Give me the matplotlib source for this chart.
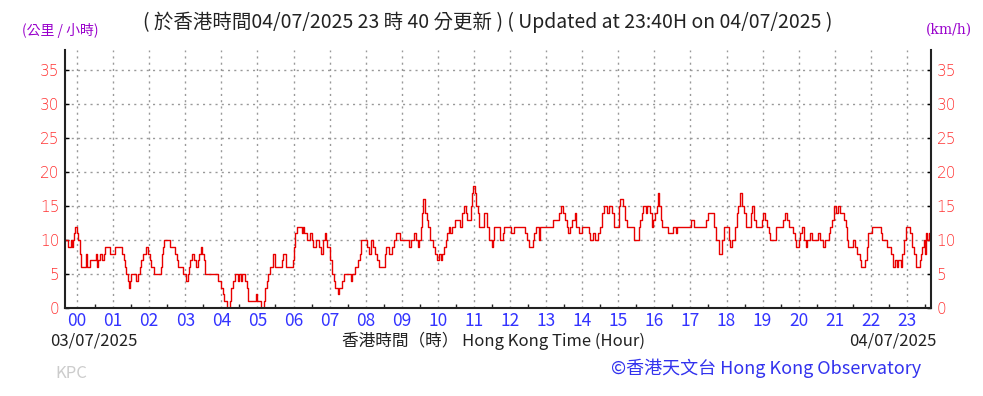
import numpy as np
import matplotlib.pyplot as plt
from matplotlib.ticker import MultipleLocator

# wind speed (km/h) step changes, time in hours since 00:00 on 04/07/2025
hours = [-0.333, -0.26, -0.18, -0.15, -0.11, -0.07, -0.05, 0.0, 0.04, 0.08, 0.11,
         0.24, 0.27, 0.37, 0.52, 0.54, 0.59, 0.65, 0.68, 0.74, 0.78, 0.92, 1.05,
         1.24, 1.29, 1.34, 1.37, 1.40, 1.43, 1.47, 1.50, 1.64, 1.69, 1.74, 1.78,
         1.83, 1.92, 1.97, 2.01, 2.05, 2.14, 2.33, 2.35, 2.37, 2.41, 2.59, 2.71,
         2.76, 2.81, 2.95, 3.01, 3.07, 3.10, 3.14, 3.19, 3.25, 3.30, 3.34, 3.38,
         3.43, 3.47, 3.53, 3.56, 3.92, 3.99, 4.04, 4.08, 4.16, 4.24, 4.28, 4.32,
         4.38, 4.45, 4.48, 4.54, 4.58, 4.65, 4.70, 4.74, 4.97, 5.00, 5.10, 5.17,
         5.22, 5.26, 5.30, 5.35, 5.44, 5.48, 5.67, 5.72, 5.79, 5.98, 6.01, 6.05,
         6.09, 6.23, 6.26, 6.30, 6.37, 6.46, 6.50, 6.54, 6.61, 6.72, 6.76, 6.82,
         6.86, 6.89, 6.94, 7.01, 7.06, 7.11, 7.16, 7.22, 7.26, 7.35, 7.41, 7.60,
         7.63, 7.70, 7.78, 7.83, 7.87, 8.05, 8.10, 8.15, 8.19, 8.26, 8.30, 8.37,
         8.54, 8.56, 8.64, 8.73, 8.78, 8.84, 8.95, 9.21, 9.26, 9.34, 9.39, 9.44,
         9.47, 9.52, 9.56, 9.60, 9.64, 9.69, 9.74, 9.78, 9.87, 9.92, 9.99, 10.04,
         10.08, 10.12, 10.17, 10.22, 10.26, 10.31, 10.35, 10.38, 10.47, 10.61,
         10.67, 10.72, 10.78, 10.82, 10.91, 10.95, 10.98, 11.02, 11.06, 11.10,
         11.15, 11.28, 11.37, 11.43, 11.50, 11.54, 11.57, 11.72, 11.80, 11.84,
         12.04, 12.11, 12.42, 12.48, 12.53, 12.63, 12.66, 12.72, 12.79, 12.84,
         13.20, 13.36, 13.41, 13.48, 13.52, 13.57, 13.61, 13.66, 13.73, 13.79,
         13.83, 13.90, 13.99, 14.18, 14.22, 14.31, 14.35, 14.45, 14.49, 14.55,
         14.60, 14.69, 14.75, 14.84, 14.89, 15.01, 15.06, 15.12, 15.18, 15.23,
         15.43, 15.58, 15.61, 15.65, 15.69, 15.76, 15.80, 15.87, 15.93, 15.96,
         16.02, 16.06, 16.09, 16.14, 16.18, 16.22, 16.39, 16.53, 16.59, 16.63,
         17.02, 17.11, 17.44, 17.48, 17.66, 17.72, 17.79, 17.88, 17.92, 18.07,
         18.11, 18.16, 18.23, 18.28, 18.33, 18.37, 18.44, 18.49, 18.55, 18.68,
         18.72, 18.77, 18.83, 18.97, 19.02, 19.08, 19.13, 19.18, 19.21, 19.38,
         19.56, 19.62, 19.67, 19.73, 19.84, 19.89, 19.93, 20.01, 20.04, 20.08,
         20.14, 20.19, 20.24, 20.32, 20.36, 20.54, 20.58, 20.67, 20.73, 20.84,
         20.88, 20.93, 20.97, 21.04, 21.10, 21.14, 21.26, 21.30, 21.34, 21.38,
         21.50, 21.56, 21.63, 21.69, 21.73, 21.85, 21.89, 21.93, 22.02, 22.28,
         22.32, 22.46, 22.56, 22.61, 22.67, 22.72, 22.76, 22.83, 22.87, 22.93,
         22.98, 23.09, 23.15, 23.20, 23.24, 23.35, 23.39, 23.42, 23.46, 23.50,
         23.53, 23.57, 23.61, 23.667]
speed = [10, 9, 10, 9, 10, 11, 12, 11, 10, 8, 6,
         8, 6, 7, 8, 6, 7, 8, 7, 8, 9, 8, 9,
         8, 7, 6, 5, 4, 3, 4, 5, 4, 5, 6, 7,
         8, 9, 8, 7, 6, 5, 6, 8, 9, 10, 9, 8,
         7, 6, 5, 4, 5, 6, 7, 8, 7, 6, 7, 8,
         9, 8, 7, 5, 4, 3, 2, 1, 0, 1, 3, 4,
         5, 4, 5, 4, 5, 4, 3, 1, 2, 1, 0, 1,
         3, 4, 5, 6, 8, 6, 7, 8, 6, 7, 9, 11,
         12, 11, 12, 11, 10, 11, 10, 9, 10, 9, 8, 10,
         11, 10, 9, 7, 5, 4, 3, 2, 3, 4, 5, 4,
         5, 6, 7, 8, 10, 9, 8, 10, 9, 8, 7, 6,
         8, 9, 8, 9, 10, 11, 10, 9, 10, 11, 10, 9,
         10, 12, 14, 16, 14, 13, 12, 10, 9, 8, 7, 8,
         7, 8, 9, 10, 11, 12, 11, 12, 13, 12,
         14, 15, 14, 13, 15, 17, 18, 17, 15, 14,
         12, 14, 12, 10, 9, 10, 12, 10, 11, 12,
         11, 12, 11, 10, 9, 10, 11, 12, 10, 12,
         13, 14, 15, 14, 13, 12, 11, 12, 13, 14,
         12, 11, 12, 11, 10, 11, 10, 11, 12, 14,
         15, 14, 15, 14, 12, 15, 16, 15, 13, 12,
         10, 12, 13, 14, 15, 14, 15, 14, 12, 13,
         14, 15, 17, 15, 13, 12, 11, 12, 11, 12,
         13, 12, 13, 14, 12, 10, 8, 10, 12, 10,
         9, 10, 12, 14, 15, 17, 15, 14, 12, 14,
         15, 13, 12, 13, 14, 13, 12, 11, 10, 12,
         13, 14, 13, 12, 11, 10, 9, 10, 11, 12,
         10, 9, 10, 11, 10, 11, 10, 9, 10, 11,
         12, 13, 15, 14, 15, 14, 13, 12, 10, 9,
         10, 9, 8, 7, 6, 7, 9, 11, 12, 11,
         10, 9, 8, 6, 7, 6, 7, 6, 8, 10,
         12, 11, 9, 8, 6, 7, 8, 9, 10, 8,
         11, 10, 11, 10]

hour_labels = ["%02d" % h for h in range(24)]
y_ticks = list(range(0, 40, 5))

cjk = ['Noto Sans CJK TC', 'DejaVu Sans']

fig = plt.figure(figsize=(9.83, 3.96), dpi=100)
ax = fig.add_axes([65 / 983, 1 - 308 / 396, 866 / 983, 258 / 396])

ax.plot(hours, speed, drawstyle='steps-post', color='#e80000', lw=1.0)

ax.set_xlim(-0.333, 23.667)
ax.set_ylim(0, 38)
ax.set_xticks(range(24))
ax.set_xticklabels(hour_labels)
ax.xaxis.set_minor_locator(MultipleLocator(0.5))
ax.set_yticks(y_ticks)
ax.grid(True, which='major', linestyle=(0, (1.5, 3)), color='#999999', lw=1)

for s in ['left', 'right', 'bottom']:
    ax.spines[s].set_linewidth(1.5)
    ax.spines[s].set_color('#222222')
ax.spines['top'].set_visible(False)

ax.tick_params(axis='x', which='major', length=0, pad=3, labelsize=12.5,
               labelcolor='#3333ff')
ax.tick_params(axis='x', which='minor', direction='in', length=3, width=1,
               color='#222222')
ax.tick_params(axis='y', which='both', direction='in', length=3, width=1,
               left=True, right=True, labelleft=True, labelright=True,
               labelsize=11, labelcolor='#ff3333', pad=4)
for lab in ax.get_xticklabels():
    lab.set_family(cjk)
for lab in ax.get_yticklabels():
    lab.set_family('DejaVu Sans')
    lab.set_fontweight('light')

def px(x, y):
    return x / 983, 1 - y / 396

fig.text(*px(22, 30), "(公里 / 小時)", color='#9900cc', fontsize=10, family=cjk,
         va='center')
fig.text(*px(143, 22), "( 於香港時間04/07/2025 23 時 40 分更新 ) ( Updated at 23:40H on 04/07/2025 )",
         color='#222222', fontsize=14, family=cjk, va='center')
fig.text(*px(972, 30), "(km/h)", color='#9900cc', fontsize=10,
         family=['DejaVu Serif'], va='center', ha='right')
fig.text(*px(50, 341), "03/07/2025", color='#222222', fontsize=12, family=cjk,
         va='center')
fig.text(*px(493, 341), "香港時間（時） Hong Kong Time (Hour)", color='#222222',
         fontsize=12, family=cjk, va='center', ha='center')
fig.text(*px(936, 341), "04/07/2025", color='#222222', fontsize=12, family=cjk,
         va='center', ha='right')
fig.text(*px(55, 373), "KPC", color='#cccccc', fontsize=12, family=cjk,
         va='center')
fig.text(*px(921, 368), "©香港天文台 Hong Kong Observatory", color='#3333ee',
         fontsize=13, family=cjk, va='center', ha='right')

fig.savefig('out.png', dpi=100)
